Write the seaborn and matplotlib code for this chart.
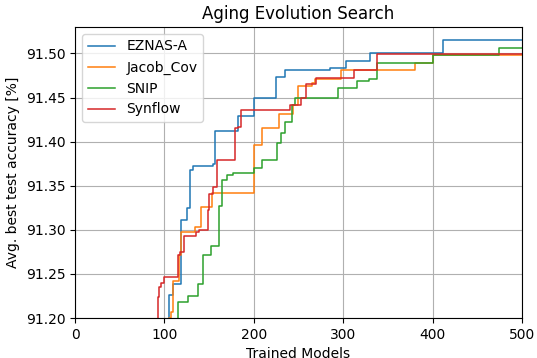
import numpy as np
import pandas as pd
import matplotlib
matplotlib.use("Agg")
import matplotlib.pyplot as plt
import seaborn as sns

# step points (trained models, best accuracy)
eznas_x = [1, 104.7, 109.3, 118.9, 125.8, 129.0, 132.3, 154.0, 156.4, 182.0, 200.2,
           224.3, 234.7, 285.0, 303.7, 329.8, 412.2, 500]
eznas_y = [91.10, 91.226, 91.239, 91.311, 91.325, 91.368, 91.372, 91.375, 91.412, 91.429,
           91.450, 91.473, 91.481, 91.483, 91.492, 91.500, 91.515, 91.515]

jacob_x = [1, 105.4, 107.0, 109.3, 115.8, 118.9, 134.0, 141.0, 153.4, 200.5, 209.7,
           228.0, 243.5, 249.2, 265.0, 269.0, 298.0, 380.4, 400.3, 500]
jacob_y = [91.10, 91.200, 91.207, 91.242, 91.272, 91.298, 91.303, 91.326, 91.342, 91.396,
           91.416, 91.431, 91.442, 91.463, 91.467, 91.471, 91.481, 91.489, 91.498, 91.498]

snip_x = [1, 115.0, 126.5, 137.3, 143.0, 152.2, 161.0, 164.9, 169.5, 177.0, 200.2,
          209.7, 225.5, 230.8, 235.4, 243.0, 246.0, 294.5, 315.6, 328.5, 337.4, 400.0,
          474.7, 500]
snip_y = [91.10, 91.218, 91.225, 91.239, 91.272, 91.282, 91.327, 91.356, 91.362, 91.365,
          91.370, 91.379, 91.399, 91.410, 91.422, 91.442, 91.449, 91.461, 91.469, 91.471,
          91.489, 91.498, 91.506, 91.506]

synflow_x = [1, 92.8, 94.3, 95.9, 99.7, 115.0, 118.0, 121.9, 135.4, 139.2, 148.4, 150.3,
             154.9, 159.1, 179.4, 182.0, 186.0, 240.8, 252.3, 258.0, 269.2, 311.7, 337.8, 500]
synflow_y = [91.10, 91.224, 91.235, 91.240, 91.247, 91.272, 91.275, 91.293, 91.297, 91.300,
             91.322, 91.341, 91.349, 91.379, 91.415, 91.417, 91.436, 91.441, 91.449, 91.465,
             91.472, 91.481, 91.499, 91.499]

series = {
    'EZNAS-A': (eznas_x, eznas_y),
    'Jacob_Cov': (jacob_x, jacob_y),
    'SNIP': (snip_x, snip_y),
    'Synflow': (synflow_x, synflow_y),
}

frames = []
for name, (xs, ys) in series.items():
    frames.append(pd.DataFrame({'models': xs, 'acc': ys, 'method': name}))
df = pd.concat(frames, ignore_index=True)

fig = plt.figure(figsize=(5.37, 3.58), dpi=100)
ax = fig.add_axes([0.1397, 0.1117, 0.8323, 0.8129])

sns.lineplot(data=df, x='models', y='acc', hue='method', estimator=None,
             palette=sns.color_palette('tab10', 4), drawstyle='steps-post',
             linewidth=1.1, ax=ax)

ax.set_xlim(0, 500)
ax.set_ylim(91.20, 91.53)
ax.set_yticks(np.arange(91.20, 91.501, 0.05))
ax.yaxis.set_major_formatter(matplotlib.ticker.FormatStrFormatter('%.2f'))
ax.grid(True, color='#b0b0b0', linewidth=0.8)
ax.set_axisbelow(True)
ax.set_title('Aging Evolution Search')
ax.set_xlabel('Trained Models')
ax.set_ylabel('Avg. best test accuracy [%]')
ax.legend(loc='upper left', title=None)

fig.savefig('out.png', dpi=100)
